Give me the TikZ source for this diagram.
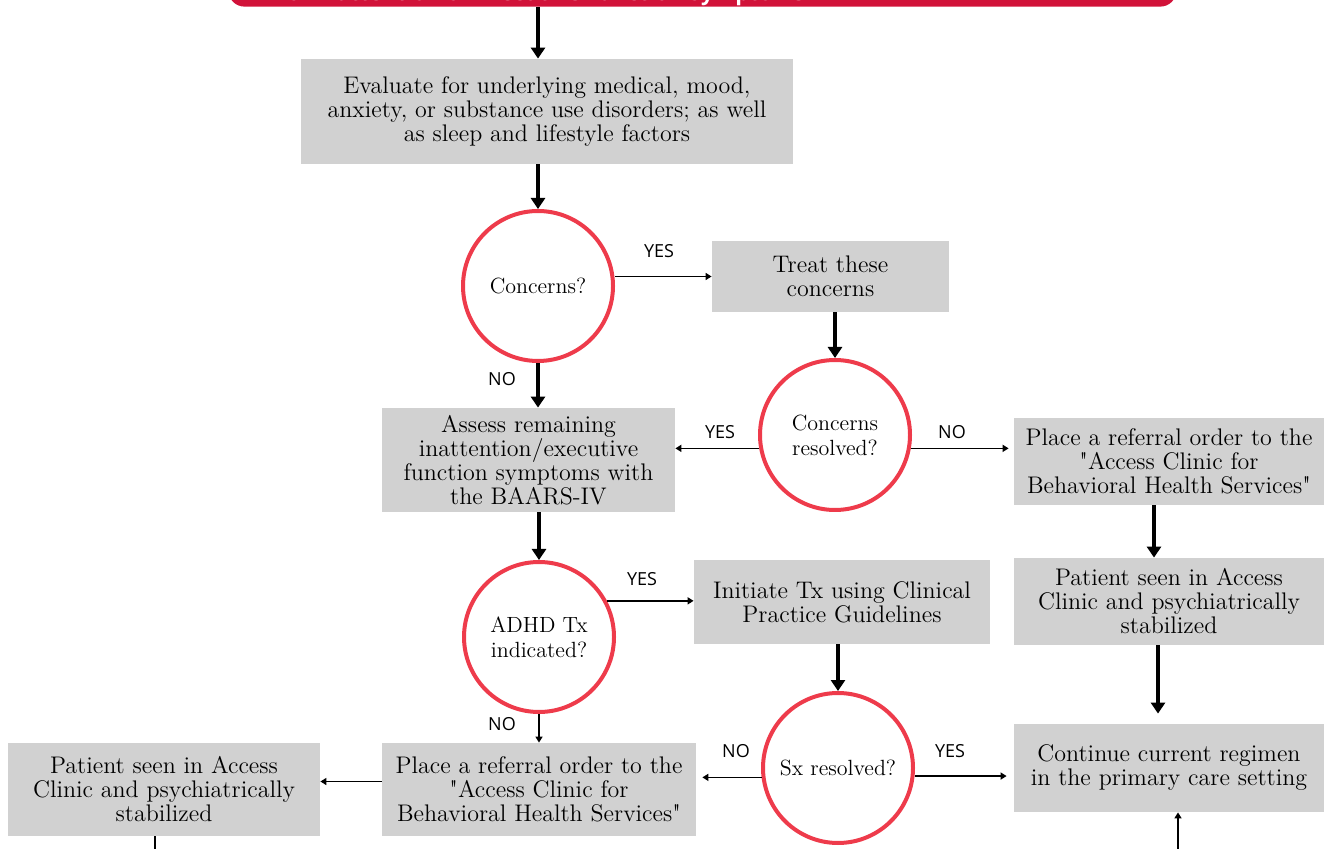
\documentclass[tikz,border=0pt]{standalone}
\usepackage{fontspec}
\newfontfamily\labelfont{Open Sans}
\usetikzlibrary{arrows.meta, calc}
\definecolor{boxgray}{HTML}{D1D1D1}
\definecolor{ringred}{HTML}{EE3B4B}
\definecolor{bannerred}{HTML}{D11239}

\begin{document}
\begin{tikzpicture}[
  x=0.5pt, y=-0.5pt,
  box/.style={fill=boxgray, align=center, inner sep=2pt, font=\fontsize{12}{12}\selectfont},
  ring/.style={circle, draw=ringred, line width=2pt, minimum size=75pt, align=center, inner sep=1pt, font=\fontsize{11}{12.5}\selectfont},
  bigarrow/.style={-{Triangle[length=5.5pt,width=7pt]}, line width=2pt},
  smallarrow/.style={-{Triangle[length=3pt,width=3.5pt]}, line width=0.8pt},
  answer/.style={font=\labelfont\fontsize{9}{10}\selectfont}
]
\useasboundingbox (0,0) rectangle (1328,849);
\clip (0,0) rectangle (1328,849);

% Title banner (cut off at the top)
\node[fill=bannerred, rounded corners=8pt, minimum width=474pt, minimum height=40pt, anchor=south west]
  (banner) at (228,7) {};
\node[font=\labelfont\bfseries\fontsize{11}{13}\selectfont, text=white, anchor=base]
  (title) at (546,1) {of Inattention or Executive Function Symptoms};

% First evaluation
\node[box, minimum width=246pt, minimum height=52.5pt] (eval) at (547,111.5)
  {Evaluate for underlying medical, mood,\\anxiety, or substance use disorders; as well\\as sleep and lifestyle factors};
\node[ring] (q1) at (538,286) {Concerns?};
\node[box, minimum width=118.5pt, minimum height=35.5pt] (treat) at (830.5,276.5) {Treat these\\concerns};
\node[ring] (q2) at (835,435) {Concerns\\resolved?};

% Assessment branch
\node[box, minimum width=146.5pt, minimum height=52pt] (assess) at (528.5,460)
  {Assess remaining\\inattention/executive\\function symptoms with\\the BAARS-IV};
\node[ring] (q3) at (539,637) {ADHD Tx\\indicated?};
\node[box, minimum width=148pt, minimum height=42pt] (init) at (842,602)
  {Initiate Tx using Clinical\\Practice Guidelines};
\node[ring] (q4) at (838,768) {Sx resolved?};

% Referral boxes
\node[box, minimum width=155pt, minimum height=43.5pt] (referR) at (1169,461.5)
  {Place a referral order to the\\\textquotedbl Access Clinic for\\Behavioral Health Services\textquotedbl};
\node[box, minimum width=155pt, minimum height=43.5pt] (seenR) at (1169,601.5)
  {Patient seen in Access\\Clinic and psychiatrically\\stabilized};
\node[box, minimum width=155pt, minimum height=44pt] (cont) at (1169,768)
  {Continue current regimen\\in the primary care setting};
\node[box, minimum width=157pt, minimum height=46.5pt] (referL) at (539,789.5)
  {Place a referral order to the\\\textquotedbl Access Clinic for\\Behavioral Health Services\textquotedbl};
\node[box, minimum width=156pt, minimum height=46.5pt] (seenL) at (164,789.5)
  {Patient seen in Access\\Clinic and psychiatrically\\stabilized};

% Answer labels
\node[answer] (yes1) at (659,251) {YES};
\node[answer] (no1) at (502,379) {NO};
\node[answer] (yes2) at (720,432) {YES};
\node[answer] (no2) at (952,432) {NO};
\node[answer] (yes3) at (642,579) {YES};
\node[answer] (no3) at (502,724) {NO};
\node[answer] (no4) at (736,751) {NO};
\node[answer] (yes4) at (950,751) {YES};

% Loose ends leaving the page
\coordinate (contin) at (1178,870);
\coordinate (seenout) at (155,870);

% Arrows
\draw[bigarrow] (banner.south -| q1) -- (eval.north -| q1);
\draw[bigarrow] (eval.south -| q1) -- (q1.north);
\draw[smallarrow] (q1.east |- treat) -- (treat.west);
\draw[bigarrow] (treat.south -| q2) -- (q2.north);
\draw[bigarrow] (q1.south) -- (assess.north -| q1.south);
\draw[smallarrow] (q2.190) -- (assess.east |- q2.190);
\draw[smallarrow] (q2.-10) -- ([xshift=-2.5pt]referR.west |- q2.-10);
\draw[bigarrow] ([xshift=-7.5pt]referR.south) -- ([xshift=-7.5pt]seenR.north);
\draw[bigarrow] ([xshift=-5.5pt]seenR.south) -- ([xshift=-5.5pt,yshift=5pt]cont.north);
\draw[bigarrow] (assess.south -| q3) -- (q3.north);
\draw[smallarrow] (q3.28) -- (init.west |- q3.28);
\draw[bigarrow] (init.south -| q4) -- (q4.north);
\draw[smallarrow] (q3.south) -- (referL.north -| q3.south);
\draw[smallarrow] (q4.187) -- ([xshift=3pt]referL.east |- q4.187);
\draw[smallarrow] (q4.-6) -- ([xshift=-3.5pt]cont.west |- q4.-6);
\draw[smallarrow] ([yshift=4pt]referL.west) -- ([yshift=4pt]seenL.east);
\draw[smallarrow] (contin) -- (contin |- cont.south);
\draw[line width=0.8pt] (seenL.south -| seenout) -- (seenout);

\end{tikzpicture}
\end{document}
